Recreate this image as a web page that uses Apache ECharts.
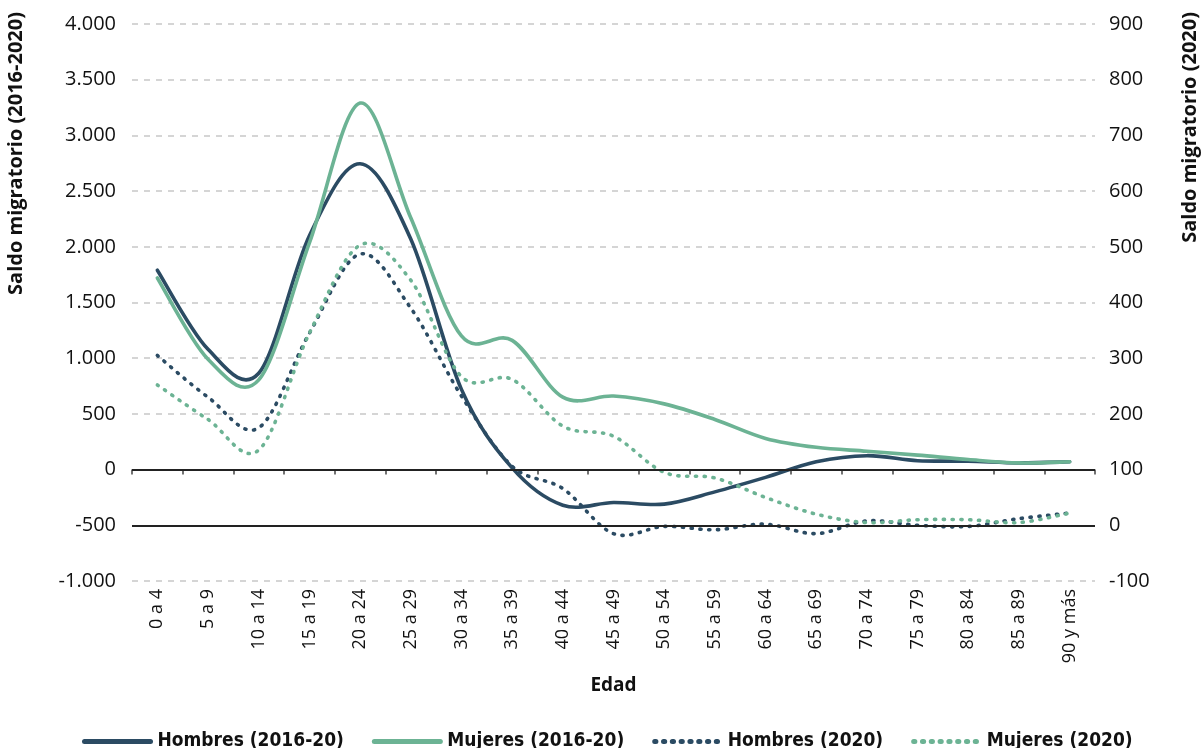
<!DOCTYPE html>
<html>
<head>
<meta charset="utf-8">
<script src="https://cdn.jsdelivr.net/npm/echarts@6/dist/echarts.min.js"></script>
<style>
  html, body { margin: 0; padding: 0; background: #ffffff; }
  #chart { width: 1203px; height: 748px; }
</style>
</head>
<body>
<div id="chart"></div>
<script>
// Grupos quinquenales de edad
const categories = ['0 a 4', '5 a 9', '10 a 14', '15 a 19', '20 a 24', '25 a 29', '30 a 34',
  '35 a 39', '40 a 44', '45 a 49', '50 a 54', '55 a 59', '60 a 64', '65 a 69',
  '70 a 74', '75 a 79', '80 a 84', '85 a 89', '90 y más'];

// Saldo migratorio acumulado 2016-2020 (eje izquierdo)
const hombres1620 = [1790, 1080, 865, 2100, 2745, 2070, 720, 15, -320, -295, -310, -200, -70, 70, 125, 80, 75, 60, 70];
const mujeres1620 = [1720, 990, 805, 2035, 3290, 2260, 1200, 1160, 650, 660, 590, 450, 280, 200, 165, 130, 90, 60, 70];

// Saldo migratorio 2020 (eje derecho)
const hombres2020 = [305, 230, 175, 345, 487, 390, 232, 106, 66, -15, -2, -8, 2, -15, 8, 0, -2, 12, 22];
const mujeres2020 = [252, 190, 135, 345, 503, 440, 267, 262, 178, 160, 95, 85, 50, 20, 5, 10, 10, 5, 22];

// Marcas de los ejes
const leftTicks = { min: -1000, max: 4000, interval: 500 };
const rightTicks = { min: -100, max: 900, interval: 100 };

const DARK = '#2b4b63';
const GREEN = '#6cb394';
const FONT = '"Open Sans", "Noto Sans", sans-serif';
const COND = '"DejaVu Sans Condensed", "DejaVu Sans", sans-serif';
const LINE_W = 3.6;
const DOTS = [1.2, 7.6];

function miles(v) {
  const s = String(Math.abs(v)).replace(/\B(?=(\d{3})+(?!\d))/g, '.');
  return (v < 0 ? '-' : '') + s;
}

// Curva suavizada (Catmull-Rom convertida a Bézier cúbica) sobre las coordenadas del eje
function smoothCurve(name, values, axisIndex, color, dash) {
  return {
    name: name,
    type: 'custom',
    coordinateSystem: 'cartesian2d',
    yAxisIndex: axisIndex,
    data: values.map(function (v, i) { return [i, v]; }),
    encode: { x: 0, y: 1 },
    z: 3,
    silent: true,
    clip: false,
    renderItem: function (params, api) {
      if (params.dataIndex !== 0) return null;
      const pts = values.map(function (v, i) { return api.coord([i, v]); });
      const n = pts.length;
      let d = 'M' + pts[0][0] + ',' + pts[0][1];
      for (let i = 0; i < n - 1; i++) {
        const p0 = pts[Math.max(i - 1, 0)];
        const p1 = pts[i];
        const p2 = pts[i + 1];
        const p3 = pts[Math.min(i + 2, n - 1)];
        const c1x = p1[0] + (p2[0] - p0[0]) / 6, c1y = p1[1] + (p2[1] - p0[1]) / 6;
        const c2x = p2[0] - (p3[0] - p1[0]) / 6, c2y = p2[1] - (p3[1] - p1[1]) / 6;
        d += ' C' + c1x + ',' + c1y + ',' + c2x + ',' + c2y + ',' + p2[0] + ',' + p2[1];
      }
      return {
        type: 'path',
        shape: { pathData: d },
        style: { fill: null, stroke: color, lineWidth: LINE_W, lineDash: dash || null, lineCap: 'round', lineJoin: 'round' }
      };
    }
  };
}

// Serie vacía que solo aporta el símbolo de la leyenda
function legendLine(name, axisIndex, color, dash) {
  return {
    name: name, type: 'line', data: [], yAxisIndex: axisIndex, symbol: 'none', color: color,
    lineStyle: { color: color, width: LINE_W, type: dash ? dash : 'solid', cap: 'round' }
  };
}

const chart = echarts.init(document.getElementById('chart'), null, { renderer: 'canvas' });

chart.setOption({
  animation: false,
  backgroundColor: '#ffffff',
  grid: { left: 132, right: 108, top: 24, bottom: 167, containLabel: false },
  xAxis: {
    type: 'category',
    data: categories,
    boundaryGap: true,
    axisLine: { show: false },
    axisTick: { show: true, length: 5, lineStyle: { color: '#444', width: 1.5 } },
    axisLabel: { rotate: 90, fontSize: 18, color: '#111', fontFamily: FONT, margin: 8, interval: 0 },
    name: 'Edad',
    nameLocation: 'middle',
    nameGap: 95,
    nameTextStyle: { fontSize: 19, fontWeight: 'bold', color: '#111', fontFamily: FONT }
  },
  yAxis: [
    {
      type: 'value',
      min: leftTicks.min, max: leftTicks.max, interval: leftTicks.interval,
      axisLine: { show: false },
      axisTick: { show: false },
      axisLabel: { fontSize: 20, color: '#111', fontFamily: FONT, margin: 16, formatter: miles },
      splitLine: { show: true, lineStyle: { color: '#c8c8c8', width: 1.5, type: [6, 6] } }
    },
    {
      type: 'value',
      min: rightTicks.min, max: rightTicks.max, interval: rightTicks.interval,
      position: 'right',
      axisLine: { show: false },
      axisTick: { show: false },
      axisLabel: { fontSize: 20, color: '#111', fontFamily: FONT, margin: 14 },
      splitLine: { show: false }
    }
  ],
  legend: {
    data: ['Hombres (2016-20)', 'Mujeres (2016-20)', 'Hombres (2020)', 'Mujeres (2020)'],
    left: 77,
    top: 727,
    itemWidth: 66,
    itemHeight: 14,
    itemGap: 28,
    itemStyle: { opacity: 0 },
    lineStyle: { width: 5 },
    textStyle: { fontSize: 19, fontWeight: 'bold', color: '#111', fontFamily: COND, padding: [0, 0, 0, 2] }
  },
  graphic: [
    {
      type: 'text', left: 6, top: 12, rotation: Math.PI / 2,
      style: { text: 'Saldo migratorio (2016-2020)', font: 'bold 20px ' + FONT, fill: '#111' }
    },
    {
      type: 'text', left: 1180, top: 12, rotation: Math.PI / 2,
      style: { text: 'Saldo migratorio (2020)', font: 'bold 20px ' + FONT, fill: '#111' }
    }
  ],
  series: [
    {
      // Líneas de referencia en cero de cada eje
      name: 'ref-izq', type: 'line', data: [], yAxisIndex: 0, z: 1,
      markLine: { silent: true, symbol: 'none', label: { show: false },
        lineStyle: { color: '#222', width: 2, type: 'solid' }, data: [{ yAxis: 0 }] }
    },
    {
      name: 'ref-der', type: 'line', data: [], yAxisIndex: 1, z: 1,
      markLine: { silent: true, symbol: 'none', label: { show: false },
        lineStyle: { color: '#222', width: 2, type: 'solid' }, data: [{ yAxis: 0 }] }
    },
    legendLine('Hombres (2016-20)', 0, DARK, null),
    legendLine('Mujeres (2016-20)', 0, GREEN, null),
    legendLine('Hombres (2020)', 1, DARK, DOTS),
    legendLine('Mujeres (2020)', 1, GREEN, DOTS),
    smoothCurve('Hombres (2016-20)', hombres1620, 0, DARK, null),
    smoothCurve('Mujeres (2016-20)', mujeres1620, 0, GREEN, null),
    smoothCurve('Hombres (2020)', hombres2020, 1, DARK, DOTS),
    smoothCurve('Mujeres (2020)', mujeres2020, 1, GREEN, DOTS)
  ]
});
</script>
</body>
</html>
